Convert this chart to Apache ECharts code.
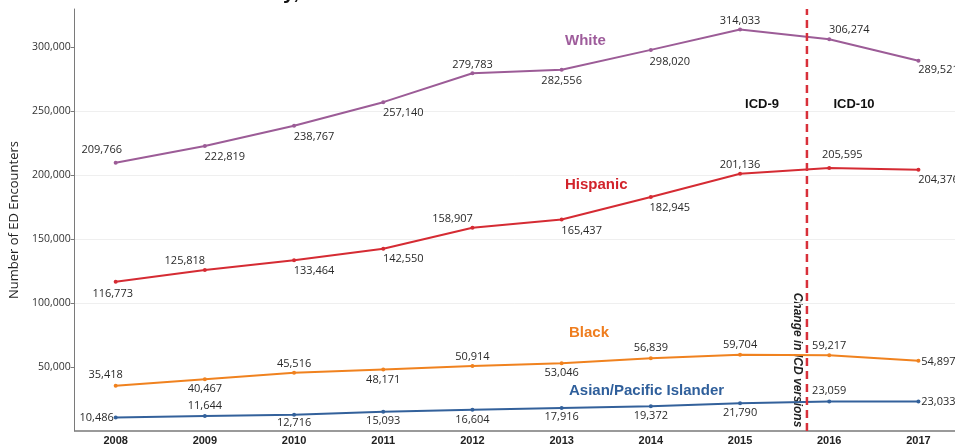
<!DOCTYPE html>
<html>
<head>
<meta charset="utf-8">
<script src="https://cdn.jsdelivr.net/npm/echarts@6/dist/echarts.min.js"></script>
<style>
html,body{margin:0;padding:0;background:#fff;}
#chart{width:955px;height:446px;}
</style>
</head>
<body>
<div id="chart"></div>
<script>
// ---- data ----
const years = [2008, 2009, 2010, 2011, 2012, 2013, 2014, 2015, 2016, 2017];
const white = [209766, 222819, 238767, 257140, 279783, 282556, 298020, 314033, 306274, 289521];
const hispanic = [116773, 125818, 133464, 142550, 158907, 165437, 182945, 201136, 205595, 204376];
const black = [35418, 40467, 45516, 48171, 50914, 53046, 56839, 59704, 59217, 54897];
const asian = [10486, 11644, 12716, 15093, 16604, 17916, 19372, 21790, 23059, 23033];
const yTickValues = [50000, 100000, 150000, 200000, 250000, 300000];
const icdChangeYear = 2015.75;
const seriesNames = ['White', 'Hispanic', 'Black', 'Asian/Pacific Islander'];

// ---- styling (label offsets relative to each point) ----
const whiteLabelOffsets = [[-14,-13],[20,11],[20,11.5],[20,11],[0,-8],[0,11],[19,11.5],[0,-9],[20,-9],[20,9.5]];
const hispanicLabelOffsets = [[-3,12],[-20,-9],[20,10.5],[20,10.5],[-20,-8.6],[20,11],[19,10.5],[0,-8.7],[13,-13],[20,10.5]];
const blackLabelOffsets = [[-10,-11],[0,9.5],[0,-9.4],[0,10],[0,-9],[0,10],[0,-10],[0,-9.3],[0,-9],[20,1]];
const asianLabelOffsets = [[-19,0],[0,-10],[0,8.4],[0,9.6],[0,10],[0,9.2],[0,10],[0,9.6],[0,-10.8],[20,0]];

const colors = {
  white: '#9c5c97',
  hispanic: '#d52b33',
  black: '#f0821f',
  asian: '#33619b'
};

const fmt = v => v.toLocaleString('en-US');

function buildData(values, offsets) {
  return values.map((v, i) => ({
    value: [years[i], v],
    label: { offset: offsets[i] }
  }));
}

function lineSeries(name, values, offsets, color) {
  return {
    name: name,
    type: 'line',
    data: buildData(values, offsets),
    symbol: 'circle',
    symbolSize: 4,
    lineStyle: { color: color, width: 2 },
    itemStyle: { color: color },
    z: 3,
    label: {
      show: true,
      position: 'inside',
      align: 'center',
      verticalAlign: 'middle',
      fontFamily: 'Open Sans',
      fontSize: 11,
      color: '#2a2a2a',
      formatter: p => fmt(p.value[1])
    },
    emphasis: { disabled: true }
  };
}

const chart = echarts.init(document.getElementById('chart'), null, { renderer: 'canvas' });

const option = {
  animation: false,
  backgroundColor: '#ffffff',
  grid: { left: 71, right: 0, top: 9, bottom: 15, containLabel: false },
  xAxis: {
    type: 'value',
    min: 2007.54,
    max: 2017.41,
    axisLine: { show: true, lineStyle: { color: '#7a7a7a', width: 1.5 } },
    axisTick: { show: false },
    splitLine: { show: false },
    axisLabel: {
      customValues: years,
      formatter: v => String(v),
      fontFamily: 'Liberation Sans',
      fontWeight: 'bold',
      fontSize: 11,
      color: '#222',
      margin: 4
    }
  },
  yAxis: {
    type: 'value',
    min: 0,
    max: 330000,
    name: 'Number of ED Encounters',
    nameLocation: 'middle',
    nameGap: 51,
    nameTextStyle: { fontFamily: 'Open Sans', fontSize: 13, color: '#222' },
    axisLine: { show: true, lineStyle: { color: '#7a7a7a', width: 1 } },
    axisTick: { show: true, length: 4, customValues: yTickValues, lineStyle: { color: '#7a7a7a' } },
    axisLabel: {
      customValues: yTickValues,
      formatter: v => fmt(v),
      fontFamily: 'Open Sans',
      fontSize: 10.5,
      color: '#333',
      margin: 4
    },
    splitLine: { show: true, showMinLine: false, showMaxLine: false, lineStyle: { color: '#efefef', width: 1 } },
    interval: 50000
  },
  series: [
    lineSeries(seriesNames[0], white, whiteLabelOffsets, colors.white),
    lineSeries(seriesNames[1], hispanic, hispanicLabelOffsets, colors.hispanic),
    lineSeries(seriesNames[2], black, blackLabelOffsets, colors.black),
    lineSeries(seriesNames[3], asian, asianLabelOffsets, colors.asian),
    {
      name: 'ICD change',
      type: 'line',
      data: [[icdChangeYear, 0], [icdChangeYear, 330000]],
      symbol: 'none',
      lineStyle: { color: '#d8303a', width: 2.5, type: [8, 5] },
      z: 5,
      silent: true
    }
  ],
  graphic: [
    { type: 'text', x: 150, y: 4,
      style: { text: 'Race/Ethnicity, 2008-2017', font: 'bold 21px "Liberation Sans"', fill: '#111', verticalAlign: 'bottom' } },
    { type: 'text', x: 565, y: 41,
      style: { text: seriesNames[0], font: 'bold 15px "Liberation Sans"', fill: '#9e5c9b', verticalAlign: 'middle' } },
    { type: 'text', x: 565, y: 185,
      style: { text: seriesNames[1], font: 'bold 15px "Liberation Sans"', fill: '#d2232b', verticalAlign: 'middle' } },
    { type: 'text', x: 569, y: 333,
      style: { text: seriesNames[2], font: 'bold 15px "Liberation Sans"', fill: '#ef7d1e', verticalAlign: 'middle' } },
    { type: 'text', x: 569, y: 391,
      style: { text: seriesNames[3], font: 'bold 15px "Liberation Sans"', fill: '#2f5f9b', verticalAlign: 'middle' } },
    { type: 'text', x: 762, y: 104,
      style: { text: 'ICD-9', font: 'bold 13px "Liberation Sans"', fill: '#111', align: 'center', verticalAlign: 'middle' } },
    { type: 'text', x: 854, y: 104,
      style: { text: 'ICD-10', font: 'bold 13px "Liberation Sans"', fill: '#111', align: 'center', verticalAlign: 'middle' } },
    { type: 'text', x: 797, y: 360, rotation: -Math.PI / 2,
      style: { text: 'Change in ICD versions', font: 'italic bold 12px "Liberation Sans"', fill: '#222', align: 'center', verticalAlign: 'middle' } }
  ]
};

chart.setOption(option);
</script>
</body>
</html>
